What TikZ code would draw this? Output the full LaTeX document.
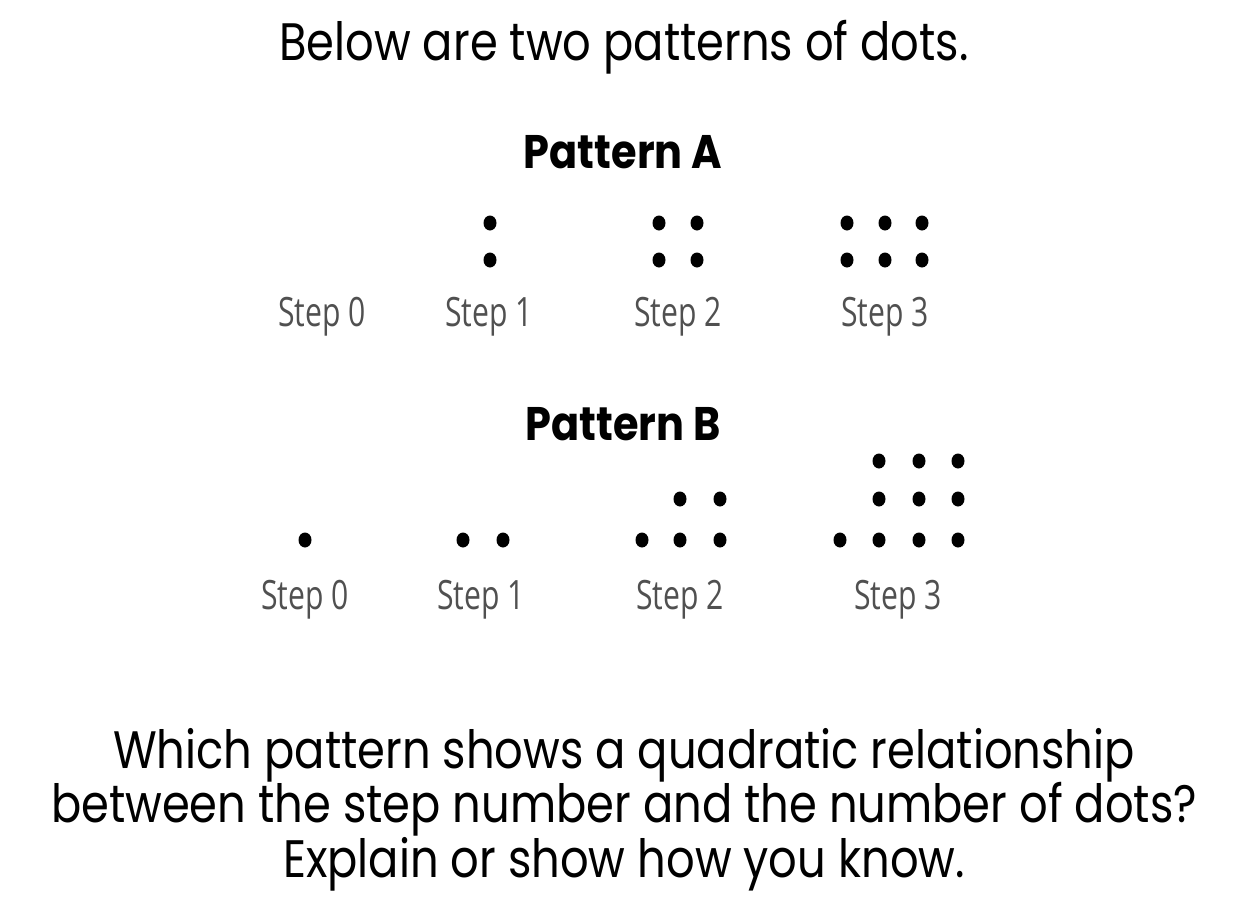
\documentclass[tikz,border=0pt]{standalone}
\usepackage{fontspec}
\setmainfont{Poppins}
\newfontfamily\labelfont{Open Sans}
\usepackage{xcolor}
\usepackage{tikz}

\definecolor{labelgray}{RGB}{80,80,80}
\tikzset{
  textline/.style={inner sep=0pt, anchor=base, xscale=0.85, font=\fontsize{15}{18}\selectfont},
  heading/.style={inner sep=0pt, anchor=base, xscale=0.88, font=\fontsize{13.4}{16}\selectfont\bfseries},
  steplabel/.style={inner sep=0pt, anchor=base, xscale=0.745, text=labelgray, font=\labelfont\fontsize{11.5}{14}\selectfont},
  dot/.style={ellipse, fill=black, inner sep=0pt, minimum width=0.13cm, minimum height=0.15cm}
}
\usetikzlibrary{shapes.geometric}

\begin{document}
\begin{tikzpicture}
\useasboundingbox (0,0) rectangle (12.58,-9.06);

\node[textline] (intro) at (6.24,-0.60) {Below are two patterns of dots.};

% pattern A
\node[heading] (headA) at (6.23,-1.68) {Pattern A};
\node[dot] (a11) at (4.90,-2.23) {};
\node[dot] (a12) at (4.90,-2.60) {};
\node[dot] (a21) at (6.59,-2.23) {};
\node[dot] (a22) at (6.97,-2.23) {};
\node[dot] (a23) at (6.59,-2.60) {};
\node[dot] (a24) at (6.97,-2.60) {};
\node[dot] (a31) at (8.47,-2.23) {};
\node[dot] (a32) at (8.85,-2.23) {};
\node[dot] (a33) at (9.22,-2.23) {};
\node[dot] (a34) at (8.47,-2.60) {};
\node[dot] (a35) at (8.85,-2.60) {};
\node[dot] (a36) at (9.22,-2.60) {};
\node[steplabel] (stepA0) at (3.22,-3.26) {Step 0};
\node[steplabel] (stepA1) at (4.89,-3.26) {Step 1};
\node[steplabel] (stepA2) at (6.78,-3.26) {Step 2};
\node[steplabel] (stepA3) at (8.85,-3.26) {Step 3};

% pattern B
\node[heading] (headB) at (6.23,-4.40) {Pattern B};
\node[dot] (b01) at (3.05,-5.40) {};
\node[dot] (b11) at (4.63,-5.40) {};
\node[dot] (b12) at (5.03,-5.40) {};
\node[dot] (b21) at (6.80,-4.99) {};
\node[dot] (b22) at (7.20,-4.99) {};
\node[dot] (b23) at (6.42,-5.40) {};
\node[dot] (b24) at (6.80,-5.40) {};
\node[dot] (b25) at (7.20,-5.40) {};
\node[dot] (b31) at (8.79,-4.61) {};
\node[dot] (b32) at (9.19,-4.61) {};
\node[dot] (b33) at (9.58,-4.61) {};
\node[dot] (b34) at (8.79,-4.99) {};
\node[dot] (b35) at (9.19,-4.99) {};
\node[dot] (b36) at (9.58,-4.99) {};
\node[dot] (b37) at (8.40,-5.40) {};
\node[dot] (b38) at (8.79,-5.40) {};
\node[dot] (b39) at (9.19,-5.40) {};
\node[dot] (b3a) at (9.58,-5.40) {};
\node[steplabel] (stepB0) at (3.05,-6.09) {Step 0};
\node[steplabel] (stepB1) at (4.81,-6.09) {Step 1};
\node[steplabel] (stepB2) at (6.80,-6.09) {Step 2};
\node[steplabel] (stepB3) at (8.98,-6.09) {Step 3};

% question
\node[textline] (ask1) at (6.24,-7.68) {Which pattern shows a quadratic relationship};
\node[textline] (ask2) at (6.24,-8.22) {between the step number and the number of dots?};
\node[textline] (ask3) at (6.24,-8.77) {Explain or show how you know.};
\end{tikzpicture}
\end{document}
